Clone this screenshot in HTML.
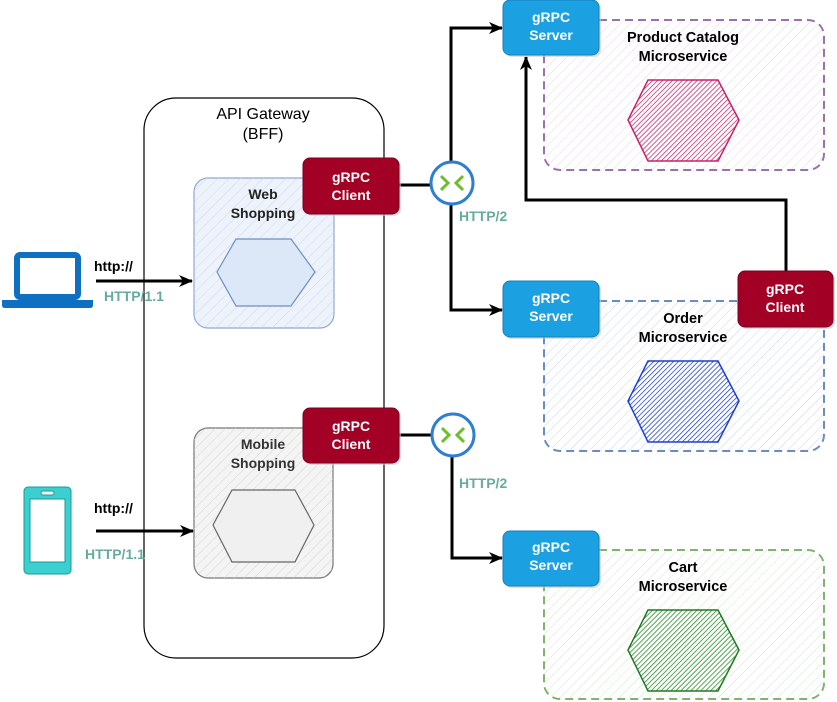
<!DOCTYPE html>
<html><head><meta charset="utf-8"><style>
html,body{margin:0;padding:0;background:#fff;}
svg{display:block;font-family:"Liberation Sans",sans-serif;}
</style></head><body>
<svg width="837" height="702" viewBox="0 0 837 702" xmlns="http://www.w3.org/2000/svg">
<defs>
<pattern id="hl" width="7" height="7" patternUnits="userSpaceOnUse" patternTransform="rotate(45)"><line x1="0" y1="0" x2="0" y2="7" stroke="#d5d5d5" stroke-width="1"/></pattern>
<pattern id="hb" width="7" height="7" patternUnits="userSpaceOnUse" patternTransform="rotate(45)"><line x1="0" y1="0" x2="0" y2="7" stroke="#c8d6ee" stroke-width="1"/></pattern>
<pattern id="hg" width="7" height="7" patternUnits="userSpaceOnUse" patternTransform="rotate(45)"><line x1="0" y1="0" x2="0" y2="7" stroke="#d2e6cc" stroke-width="1"/></pattern>
<pattern id="hp" width="7" height="7" patternUnits="userSpaceOnUse" patternTransform="rotate(45)"><line x1="0" y1="0" x2="0" y2="7" stroke="#e6d8e8" stroke-width="1"/></pattern>
<pattern id="pk" width="3.5" height="3.5" patternUnits="userSpaceOnUse" patternTransform="rotate(45)"><line x1="0" y1="0" x2="0" y2="3.5" stroke="#d0206a" stroke-width="1.5"/></pattern>
<pattern id="bl" width="3.5" height="3.5" patternUnits="userSpaceOnUse" patternTransform="rotate(45)"><line x1="0" y1="0" x2="0" y2="3.5" stroke="#1f3fcf" stroke-width="1.5"/></pattern>
<pattern id="gr" width="3.5" height="3.5" patternUnits="userSpaceOnUse" patternTransform="rotate(45)"><line x1="0" y1="0" x2="0" y2="3.5" stroke="#1f8a1f" stroke-width="1.5"/></pattern>
<pattern id="wb" width="8" height="8" patternUnits="userSpaceOnUse" patternTransform="rotate(45)"><line x1="0" y1="0" x2="0" y2="8" stroke="#c9d9ef" stroke-width="1"/></pattern>
<marker id="ar" markerWidth="14" markerHeight="12" refX="13" refY="6" orient="auto" markerUnits="userSpaceOnUse"><path d="M0,0 L14,6 L0,12 L4,6 Z" fill="#000"/></marker>
</defs>

<rect x="144" y="98" width="240" height="560" rx="32" fill="#fff" stroke="#000" stroke-width="1.2"/>
<text x="263" y="119" font-size="16" text-anchor="middle">API Gateway</text>
<text x="263" y="139" font-size="16" text-anchor="middle">(BFF)</text>

<rect x="194" y="178" width="140" height="150" rx="14" fill="#eef3fb" stroke="#8fa9cf" stroke-width="1.2"/>
<rect x="194" y="178" width="140" height="150" rx="14" fill="url(#wb)"/>
<text x="263" y="199" font-size="14" font-weight="bold" text-anchor="middle" fill="#222">Web</text>
<text x="263" y="218" font-size="14" font-weight="bold" text-anchor="middle" fill="#222">Shopping</text>
<polygon points="236,239 291,239 315,272 291,306 236,306 217,272" fill="#dce8f8" stroke="#6d8fc0" stroke-width="1.2"/>

<rect x="194" y="428" width="139" height="150" rx="14" fill="#f4f4f4" stroke="#777" stroke-width="1.2"/>
<rect x="194" y="428" width="139" height="150" rx="14" fill="url(#hl)"/>
<text x="263" y="449" font-size="14" font-weight="bold" text-anchor="middle" fill="#333">Mobile</text>
<text x="263" y="468" font-size="14" font-weight="bold" text-anchor="middle" fill="#333">Shopping</text>
<polygon points="232,490 295,490 314,525 295,562 232,562 213,525" fill="#f0f0f0" stroke="#666" stroke-width="1.2"/>

<rect x="544" y="20" width="280" height="150" rx="16" fill="url(#hp)" stroke="#9a72a8" stroke-width="2" stroke-dasharray="8,5"/>
<text x="683" y="42" font-size="14.5" font-weight="bold" text-anchor="middle">Product Catalog</text>
<text x="683" y="61" font-size="14.5" font-weight="bold" text-anchor="middle">Microservice</text>
<polygon points="648,80 718,80 739,120 718,161 648,161 628,120" fill="url(#pk)" stroke="#c8206a" stroke-width="1.5"/>

<rect x="544" y="301" width="280" height="150" rx="16" fill="url(#hb)" stroke="#6b8cc0" stroke-width="2" stroke-dasharray="8,5"/>
<text x="683" y="342" font-size="14.5" font-weight="bold" text-anchor="middle">Microservice</text>
<polygon points="648,361 718,361 739,401 718,442 648,442 628,401" fill="url(#bl)" stroke="#1f3fcf" stroke-width="1.5"/>

<rect x="544" y="550" width="280" height="149" rx="16" fill="url(#hg)" stroke="#7fb36e" stroke-width="2" stroke-dasharray="8,5"/>
<text x="683" y="572" font-size="14.5" font-weight="bold" text-anchor="middle">Cart</text>
<text x="683" y="591" font-size="14.5" font-weight="bold" text-anchor="middle">Microservice</text>
<polygon points="648,610 718,610 739,650 718,691 648,691 628,650" fill="url(#gr)" stroke="#1f7a1f" stroke-width="1.5"/>

<g stroke="#000" stroke-width="3" fill="none">
<line x1="96" y1="281" x2="192" y2="281" marker-end="url(#ar)"/>
<line x1="96" y1="531" x2="193" y2="531" marker-end="url(#ar)"/>
<line x1="399" y1="185" x2="430" y2="185"/>
<line x1="399" y1="435" x2="431" y2="435"/>
<polyline points="451,162 451,28 502,28" marker-end="url(#ar)"/>
<polyline points="451,205 451,310 502,310" marker-end="url(#ar)"/>
<polyline points="452,457 452,558 502,558" marker-end="url(#ar)"/>
<polyline points="786,271 786,200 526,200 526,57" marker-end="url(#ar)"/>
</g>

<g>
<circle cx="452" cy="183" r="21" fill="#fff" stroke="#2f7fd0" stroke-width="3"/>
<path d="M441,176 L448,183 L441,190 M463,176 L456,183 L463,190" stroke="#6cbf2a" stroke-width="3" fill="none"/>
<circle cx="453" cy="435" r="21" fill="#fff" stroke="#2f7fd0" stroke-width="3"/>
<path d="M442,428 L449,435 L442,442 M464,428 L457,435 L464,442" stroke="#6cbf2a" stroke-width="3" fill="none"/>
</g>

<text x="94" y="271" font-size="14" font-weight="bold">http://</text>
<text x="104" y="301" font-size="14" font-weight="bold" fill="#67ab9f">HTTP/1.1</text>
<text x="94" y="513" font-size="14" font-weight="bold">http://</text>
<text x="85" y="559" font-size="14" font-weight="bold" fill="#67ab9f">HTTP/1.1</text>
<text x="459" y="221" font-size="14" font-weight="bold" fill="#67ab9f">HTTP/2</text>
<text x="459" y="488" font-size="14" font-weight="bold" fill="#67ab9f">HTTP/2</text>

<g font-size="14" font-weight="bold" fill="#fff" text-anchor="middle">
<rect x="305" y="160" width="96" height="56" rx="7" fill="#ccc" opacity="0.6"/>
<rect x="303" y="158" width="96" height="56" rx="7" fill="#a20025" stroke="#7a0020"/>
<text x="351" y="182">gRPC</text><text x="351" y="200">Client</text>
<rect x="305" y="410" width="96" height="55" rx="7" fill="#ccc" opacity="0.6"/>
<rect x="303" y="408" width="96" height="55" rx="7" fill="#a20025" stroke="#7a0020"/>
<text x="351" y="431">gRPC</text><text x="351" y="449">Client</text>
<rect x="740" y="273" width="95" height="56" rx="7" fill="#ccc" opacity="0.6"/>
<rect x="738" y="271" width="95" height="56" rx="7" fill="#a20025" stroke="#7a0020"/>
<text x="785" y="294">gRPC</text><text x="785" y="312">Client</text>
</g>

<g font-size="14" font-weight="bold" fill="#fff" text-anchor="middle">
<rect x="505" y="2" width="96" height="55" rx="7" fill="#ccc" opacity="0.6"/>
<rect x="503" y="0" width="96" height="55" rx="7" fill="#1ba1e2" stroke="#1780b8"/>
<text x="551" y="22">gRPC</text><text x="551" y="40">Server</text>
<rect x="505" y="283" width="96" height="56" rx="7" fill="#ccc" opacity="0.6"/>
<rect x="503" y="281" width="96" height="56" rx="7" fill="#1ba1e2" stroke="#1780b8"/>
<text x="551" y="303">gRPC</text><text x="551" y="321">Server</text>
<rect x="505" y="533" width="96" height="55" rx="7" fill="#ccc" opacity="0.6"/>
<rect x="503" y="531" width="96" height="55" rx="7" fill="#1ba1e2" stroke="#1780b8"/>
<text x="551" y="552">gRPC</text><text x="551" y="570">Server</text>
</g>
<text x="683" y="323" font-size="14.5" font-weight="bold" text-anchor="middle">Order</text>

<rect x="17" y="255" width="61" height="42" rx="3" fill="#fff" stroke="#0f6fc0" stroke-width="6"/>
<path d="M2,300 L93,300 L93,305 Q93,308 90,308 L5,308 Q2,308 2,305 Z" fill="#0f6fc0"/>

<rect x="24" y="487" width="47" height="87" rx="4" fill="#3ccfcf" stroke="#1a9a9a"/>
<rect x="30" y="499" width="35" height="63" fill="#fff" stroke="#1a9a9a"/>
<rect x="41" y="491" width="13" height="4" rx="2" fill="#fff" stroke="#1a9a9a"/>
</svg>
</body></html>
